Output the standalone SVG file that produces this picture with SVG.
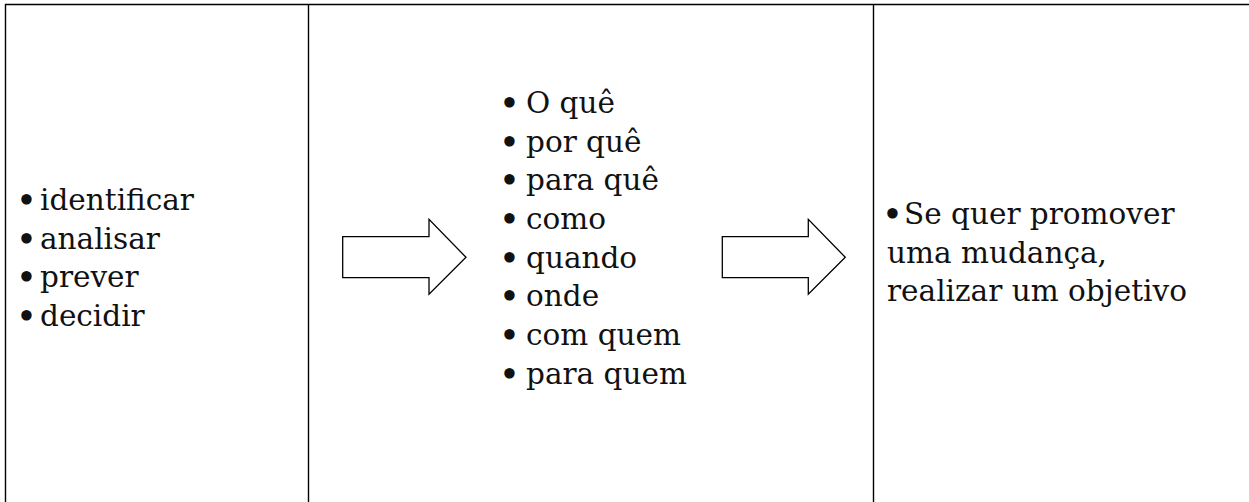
<svg xmlns="http://www.w3.org/2000/svg" width="1249" height="502" viewBox="0 0 1249 502">
<style>
.grid{fill:none;stroke:#000;stroke-width:1.4}
.arrow{fill:#fff;stroke:#000;stroke-width:1.3;stroke-linejoin:miter}
text{font-family:"DejaVu Serif","Liberation Serif",serif;font-size:29.5px;fill:#111}
.b{font-weight:bold}
</style>
<rect width="1249" height="502" fill="#fff"/>
<g id="table" class="grid">
<path d="M5.5,503 V4.5 H1250"/>
<path d="M308.5,4.5 V503"/>
<path d="M873.5,4.5 V503"/>
</g>
<g id="col1">
<text y="210"><tspan class="b" x="17">•</tspan><tspan x="40">identificar</tspan></text>
<text y="249"><tspan class="b" x="17">•</tspan><tspan x="40">analisar</tspan></text>
<text y="287"><tspan class="b" x="17">•</tspan><tspan x="40">prever</tspan></text>
<text y="326"><tspan class="b" x="17">•</tspan><tspan x="40">decidir</tspan></text>
</g>
<g id="col2">
<text y="113"><tspan class="b" x="500">•</tspan><tspan x="526">O quê</tspan></text>
<text y="152"><tspan class="b" x="500">•</tspan><tspan x="526">por quê</tspan></text>
<text y="190"><tspan class="b" x="500">•</tspan><tspan x="526">para quê</tspan></text>
<text y="229"><tspan class="b" x="500">•</tspan><tspan x="526">como</tspan></text>
<text y="268"><tspan class="b" x="500">•</tspan><tspan x="526">quando</tspan></text>
<text y="306"><tspan class="b" x="500">•</tspan><tspan x="526">onde</tspan></text>
<text y="345"><tspan class="b" x="500">•</tspan><tspan x="526">com quem</tspan></text>
<text y="384"><tspan class="b" x="500">•</tspan><tspan x="526">para quem</tspan></text>
</g>
<g id="col3">
<text y="224"><tspan class="b" x="883">•</tspan><tspan x="904">Se quer promover</tspan></text>
<text x="887" y="263">uma mudança,</text>
<text x="887" y="301">realizar um objetivo</text>
</g>
<g id="connectors">
<path class="arrow" d="M342.7,236.7 H429 V219.3 L466,257.3 L429,294.3 V277.7 H342.7 Z"/>
<path class="arrow" d="M722.3,236.7 H808.3 V219.3 L845.3,257.3 L808.3,294.3 V277.7 H722.3 Z"/>
</g>
</svg>
